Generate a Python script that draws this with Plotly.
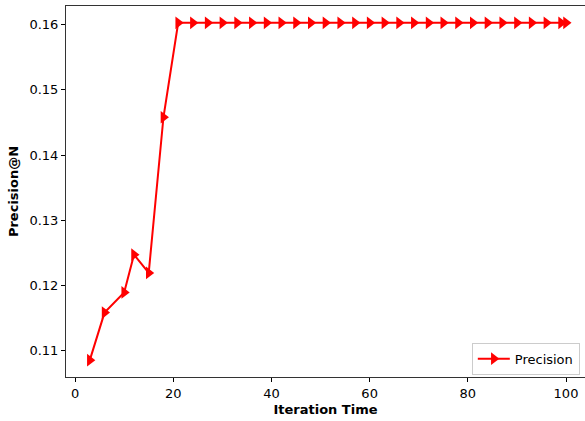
import plotly.graph_objects as go

# Iteration numbers and the corresponding Precision@N values
iterations = [3, 6, 10, 12, 15, 18, 21, 24, 27, 30, 33, 36, 39, 42, 45, 48,
              51, 54, 57, 60, 63, 66, 69, 72, 75, 78, 81, 84, 87, 90, 93,
              96, 99, 100]
precision = [0.1085, 0.1158, 0.1189, 0.1247, 0.1219, 0.1458, 0.1603,
             0.1603, 0.1603, 0.1603, 0.1603, 0.1603, 0.1603, 0.1603,
             0.1603, 0.1603, 0.1603, 0.1603, 0.1603, 0.1603, 0.1603,
             0.1603, 0.1603, 0.1603, 0.1603, 0.1603, 0.1603, 0.1603,
             0.1603, 0.1603, 0.1603, 0.1603, 0.1603, 0.1603]

x_ticks = [0, 20, 40, 60, 80, 100]
y_ticks = [0.11, 0.12, 0.13, 0.14, 0.15, 0.16]

FONT = "DejaVu Sans"

fig = go.Figure()
fig.add_trace(go.Scatter(
    x=iterations, y=precision, mode="lines+markers", name="Precision",
    line=dict(color="#ff0000", width=2),
    marker=dict(symbol="triangle-right", size=11, color="#ff0000"),
))

fig.update_layout(
    width=585, height=421,
    margin=dict(l=66, r=0, t=6, b=44),
    paper_bgcolor="white", plot_bgcolor="white",
    font=dict(family=FONT, size=13, color="black"),
    showlegend=True,
    legend=dict(
        x=0.99, y=0.006, xanchor="right", yanchor="bottom",
        bgcolor="rgba(255,255,255,0.8)", bordercolor="#cccccc", borderwidth=1,
        font=dict(size=13), itemwidth=32,
    ),
    xaxis=dict(
        range=[-1.85, 103.87], tickvals=x_ticks, ticks="outside", ticklen=4,
        tickcolor="black", showline=True, linecolor="#333333", linewidth=1,
        mirror=True, showgrid=False, zeroline=False,
        title=dict(text="<b>Iteration Time</b>", font=dict(size=13), standoff=5),
    ),
    yaxis=dict(
        range=[0.10591, 0.16289], tickvals=y_ticks, tickformat=".2f",
        ticks="outside", ticklen=4, tickcolor="black", showline=True,
        linecolor="#333333", linewidth=1, showgrid=False, zeroline=False,
        title=dict(text="<b>Precision@N</b>", font=dict(size=13), standoff=7),
    ),
)

fig.write_html("out.html")
